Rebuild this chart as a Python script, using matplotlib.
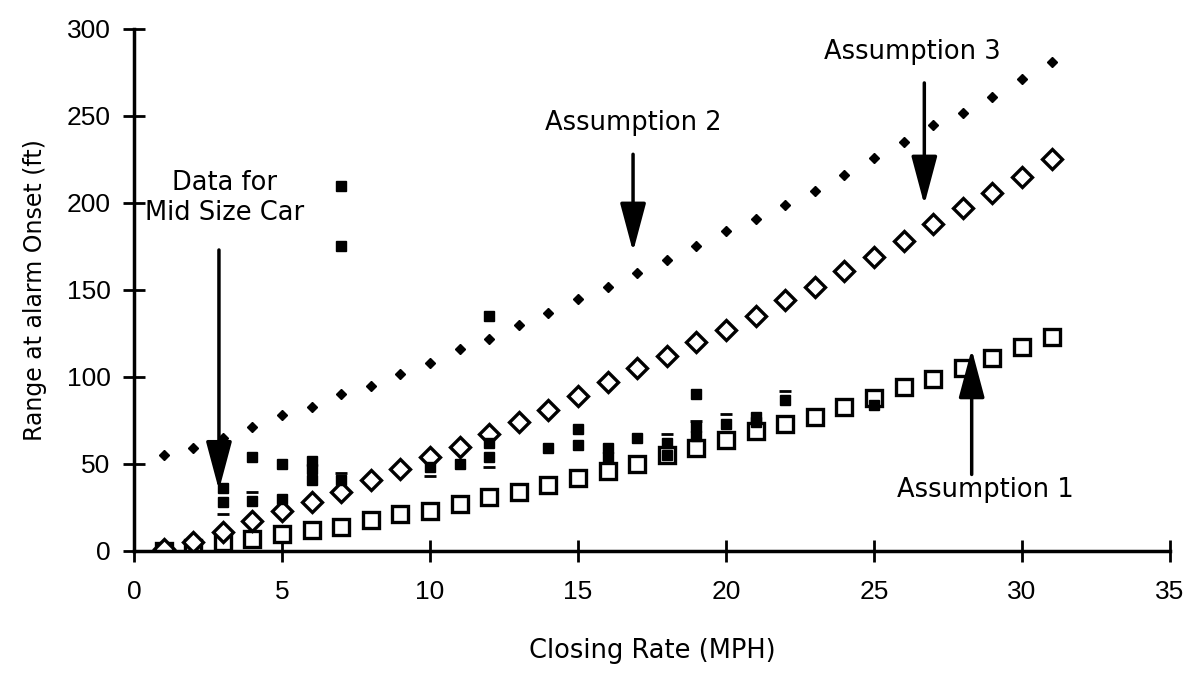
import matplotlib
matplotlib.use("Agg")
import matplotlib.pyplot as plt

# closing rate (mph) for the three model curves
rate = list(range(1, 32))

# Assumption 1: open squares
assump1 = [0, 2, 5, 7, 10, 12, 14, 18, 21, 23, 27, 31, 34, 38, 42, 46, 50, 55,
           59, 64, 69, 73, 77, 83, 88, 94, 99, 105, 111, 117, 123]
# Assumption 2: small filled diamonds
assump2 = [55, 59, 65, 71, 78, 83, 90, 95, 102, 108, 116, 122, 130, 137, 145,
           152, 160, 167, 175, 184, 191, 199, 207, 216, 226, 235, 245, 252,
           261, 271, 281]
# Assumption 3: open diamonds
assump3 = [1, 5, 11, 17, 23, 28, 34, 41, 47, 54, 60, 67, 74, 81, 89, 97, 105,
           112, 120, 127, 135, 144, 152, 161, 169, 178, 188, 197, 206, 215, 225]

# measured data, mid size car
data_x = [3, 3, 4, 4, 5, 5, 6, 6, 6, 7, 7, 7, 10, 11, 12, 12, 12, 14, 15, 15,
          16, 16, 17, 18, 18, 19, 19, 19, 20, 21, 21, 22, 25]
data_y = [36, 28, 54, 29, 50, 30, 52, 47, 41, 210, 175, 41, 48, 50, 135, 62,
          54, 59, 70, 61, 59, 54, 65, 62, 55, 90, 71, 66, 73, 77, 74, 87, 84]
# partly printed data marks
dash_x = [3, 4, 7, 10, 12, 18, 19, 20, 22]
dash_y = [21, 34, 45, 43, 48, 67, 75, 79, 92]

fig = plt.figure(figsize=(11.92, 6.78), dpi=100)
ax = fig.add_axes([134 / 1192, 1 - 551 / 678, (1170 - 134) / 1192, (551 - 29) / 678])

ax.plot(data_x, data_y, "s", color="black", markersize=6.5, zorder=3)
ax.plot(dash_x, dash_y, "_", color="black", markersize=9, mew=2, zorder=3)
ax.plot(rate, assump1, "s", mfc="white", mec="black", markersize=11.5, mew=2.4, zorder=2)
ax.plot(rate, assump3, "D", mfc="white", mec="black", markersize=10, mew=2.4, zorder=2)
ax.plot(rate, assump2, "D", color="black", markersize=5, zorder=4)

ax.set_xlim(0, 35)
ax.set_ylim(0, 300)
ax.set_xticks(range(0, 36, 5))
ax.set_yticks(range(0, 301, 50))
for s in ["top", "right"]:
    ax.spines[s].set_visible(False)
for s in ["left", "bottom"]:
    ax.spines[s].set_linewidth(2.5)
ax.tick_params(direction="inout", length=16, width=2, labelsize=19)
ax.tick_params(axis="y", pad=9)
ax.tick_params(axis="x", pad=13)
for lab in ax.get_xticklabels() + ax.get_yticklabels():
    lab.set_family("Liberation Sans")
ax.set_xlabel("Closing Rate (MPH)", fontsize=18.5, labelpad=24)
ax.set_ylabel("Range at alarm Onset (ft)", fontsize=17, labelpad=14)

arrow = dict(arrowstyle="-|>,head_length=0.6,head_width=0.16", lw=2.5,
             color="black", mutation_scale=50, shrinkA=0, shrinkB=0)
txt = dict(fontsize=18.5, ha="center", va="center")

ax.annotate("", xy=(16.86, 172), xytext=(16.86, 228), arrowprops=arrow)
ax.text(16.86, 246, "Assumption 2", **txt)

ax.annotate("", xy=(26.7, 199), xytext=(26.7, 269), arrowprops=arrow)
ax.text(26.3, 287, "Assumption 3", **txt)

ax.annotate("", xy=(2.87, 35), xytext=(2.87, 173), arrowprops=arrow)
ax.text(3.07, 203, "Data for\nMid Size Car", linespacing=1.2, **txt)

ax.annotate("", xy=(28.3, 116), xytext=(28.3, 44), arrowprops=arrow)
ax.text(28.75, 35, "Assumption 1", **txt)

fig.savefig("out.png", dpi=100)
